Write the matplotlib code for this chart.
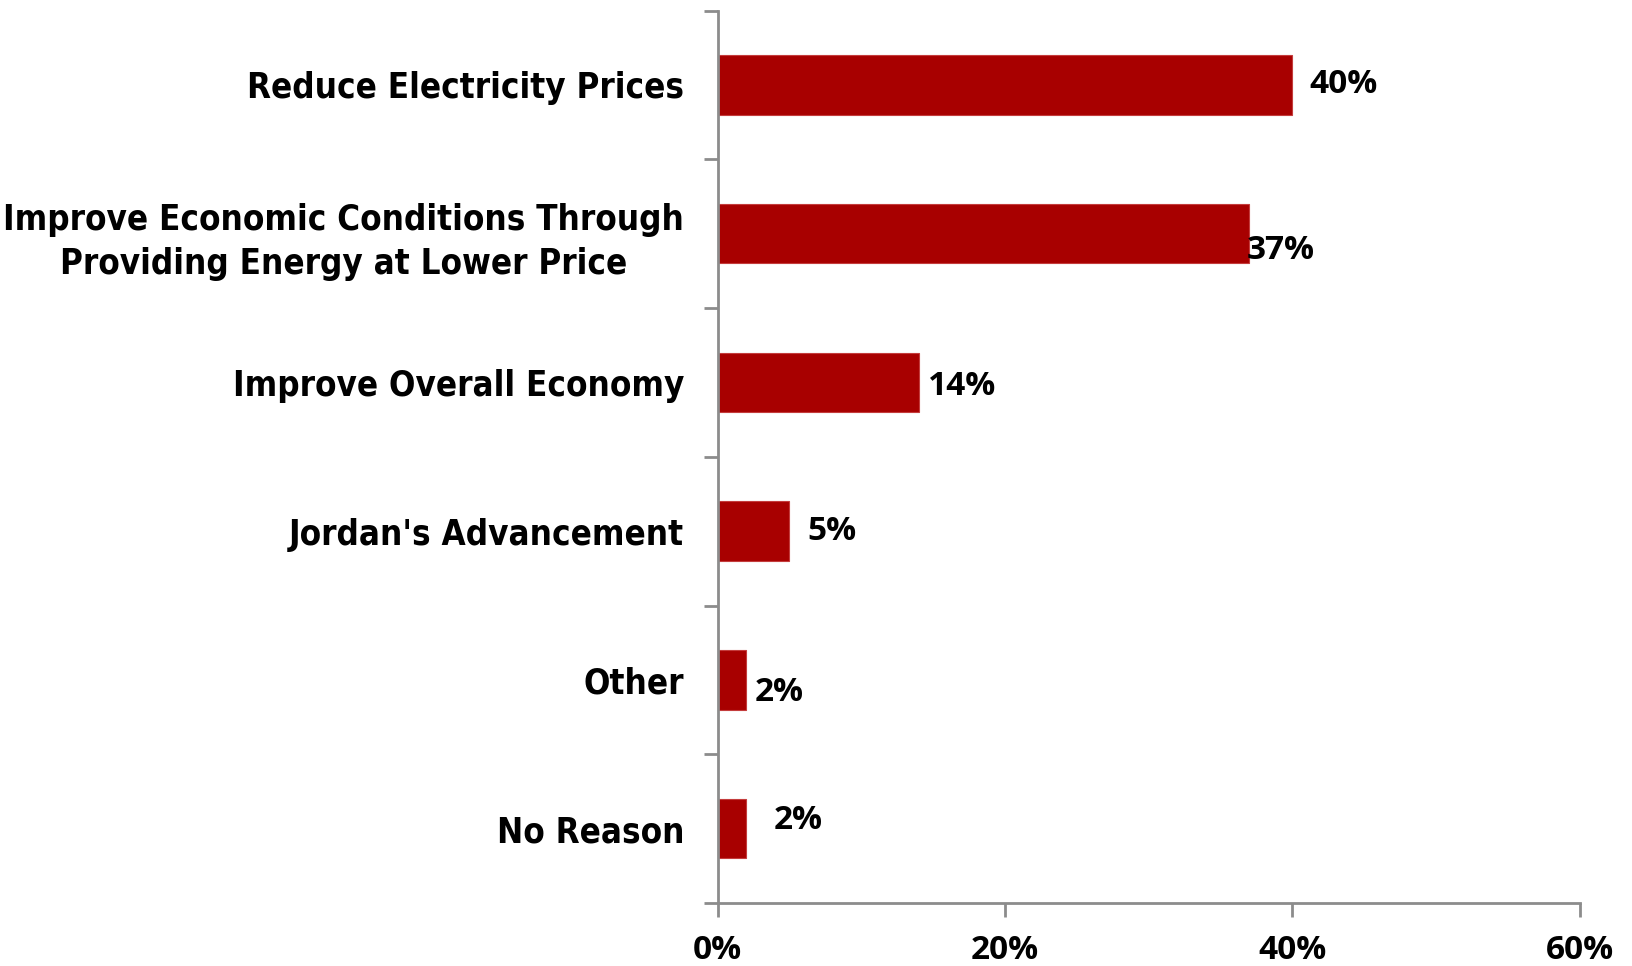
import numpy as np
from matplotlib import pyplot as plt
from matplotlib.ticker import FixedLocator, PercentFormatter

categories = [
    'Reduce Electricity Prices',
    'Improve Economic Conditions Through\nProviding Energy at Lower Price',
    'Improve Overall Economy',
    "Jordan's Advancement",
    'Other',
    'No Reason',
]
values = [40, 37, 14, 5, 2, 2]
value_labels = ['40%', '37%', '14%', '5%', '2%', '2%']
x_ticks = [0, 20, 40, 60]

bar_color = '#a80000'
axis_color = '#8c8c8c'
num_font = ['Open Sans', 'DejaVu Sans']

fig = plt.figure(figsize=(16.33, 9.66), dpi=100)
ax = fig.add_axes([0.4394, 0.0652, 0.9675 - 0.4394, 0.989 - 0.0652])

y = np.arange(len(categories))
ax.barh(y, values, height=0.4, color=bar_color, edgecolor='#c43c3c', linewidth=0.8)

ax.set_xlim(0, 60)
ax.set_ylim(len(categories) - 0.5, -0.5)

for s in ['top', 'right']:
    ax.spines[s].set_visible(False)
for s in ['left', 'bottom']:
    ax.spines[s].set_color(axis_color)
    ax.spines[s].set_linewidth(2)

# category labels sit at bar centres, tick marks at the band edges
ax.set_yticks(y)
ax.set_yticklabels(categories, fontsize=25, fontweight='bold', family='DejaVu Sans',
                   fontstretch='condensed', multialignment='center', linespacing=1.35)
ax.yaxis.set_minor_locator(FixedLocator(np.arange(-0.5, len(categories), 1)))
ax.tick_params(axis='y', which='major', length=0, pad=24)
ax.tick_params(axis='y', which='minor', length=10, width=2, color=axis_color, direction='out')

ax.set_xticks(x_ticks)
ax.xaxis.set_major_formatter(PercentFormatter(decimals=0))
ax.tick_params(axis='x', length=10, width=2, color=axis_color, direction='out', pad=12)
for lbl in ax.get_xticklabels():
    lbl.set_fontsize(24)
    lbl.set_fontweight('bold')
    lbl.set_family(num_font)

# data label offsets in pixels (dx, dy), as placed in the original
offsets = [(17, 0), (-3, -17), (9, -4), (18, 0), (8, -13), (27, 8)]
for i, (v, t) in enumerate(zip(values, value_labels)):
    dx, dy = offsets[i]
    ax.annotate(t, (v, i), xytext=(dx * 0.72, dy * 0.72), textcoords='offset points',
                ha='left', va='center', fontsize=24, fontweight='bold', family=num_font)

fig.savefig('out.png', dpi=100)
